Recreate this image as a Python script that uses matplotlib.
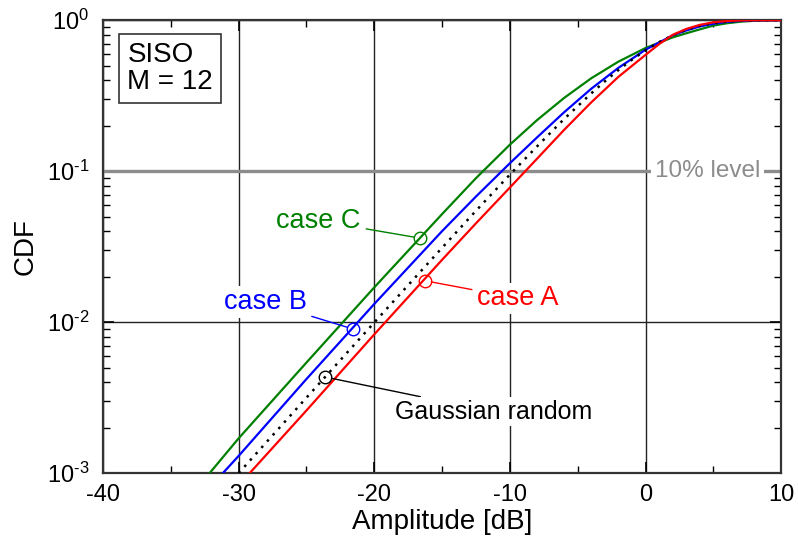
import numpy as np
import matplotlib
matplotlib.use('Agg')
from matplotlib import pyplot as plt
from matplotlib.ticker import FixedLocator, LogLocator, NullFormatter

plt.rcParams['font.family'] = ['Liberation Sans', 'DejaVu Sans']
plt.rcParams['mathtext.fontset'] = 'custom'
plt.rcParams['mathtext.rm'] = 'Liberation Sans'
plt.rcParams['mathtext.it'] = 'Liberation Sans'
plt.rcParams['axes.unicode_minus'] = False

# --data-------------------------------------------------------------------
gauss_x = [-32.5, -30, -25, -20, -15, -12.5, -10, -8, -6, -4, -3, -2, -1, 0, 1, 2, 3, 4, 5, 6, 7, 8, 9, 10]
gauss_y = [5.6e-4, 1.0e-3, 3.16e-3, 9.95e-3, 3.11e-2, 5.47e-2, 9.5e-2, 0.146, 0.222, 0.328, 0.394, 0.468, 0.548,
           0.632, 0.716, 0.795, 0.864, 0.919, 0.958, 0.981, 0.9933, 0.9982, 0.9996, 1.0]

caseA_x = [-32, -30, -25, -20, -15, -12.5, -10, -8, -6, -4, -2, 0, 1, 2, 3, 4, 5, 6, 7, 8, 10]
caseA_y = [4.4e-4, 8.3e-4, 2.6e-3, 8.3e-3, 2.59e-2, 4.52e-2, 7.8e-2, 0.121, 0.188, 0.286, 0.422,
           0.590, 0.695, 0.80, 0.876, 0.932, 0.969, 0.988, 0.997, 0.9995, 1.0]

caseB_x = [-33, -30, -25, -20, -15, -12.5, -10, -8, -6, -4, -2, 0, 2, 3, 4, 5, 6, 7, 8, 10]
caseB_y = [6.6e-4, 1.3e-3, 4.2e-3, 1.32e-2, 4.01e-2, 6.8e-2, 0.113, 0.1675, 0.246, 0.352, 0.484,
           0.638, 0.795, 0.856, 0.91, 0.948, 0.975, 0.99, 0.997, 1.0]

caseC_x = [-34, -30, -25, -20, -15, -12.5, -10, -8, -6, -4, -2, 0, 2, 3, 4, 5, 6, 7, 8, 9, 10]
caseC_y = [6.3e-4, 1.7e-3, 5.4e-3, 1.7e-2, 5.2e-2, 9.0e-2, 0.150, 0.218, 0.306, 0.413, 0.532,
           0.655, 0.77, 0.82, 0.87, 0.922, 0.955, 0.978, 0.991, 0.997, 1.0]

# marker positions on the curves used for the labels
mark_x = {'A': -16.25, 'B': -21.55, 'C': -16.6, 'G': -23.6}
mark_y = {'A': 0.0188, 'B': 0.0090, 'C': 0.036, 'G': 0.00433}

level_10 = 0.1

#--plot---------------------------------------------------------------------
fig = plt.figure(figsize=(7.98, 5.47), dpi=100)
ax = fig.add_axes([0.129, 0.135, 0.850, 0.828])

ax.axhline(level_10, color='#8c8c8c', lw=2.4, zorder=2)

ax.plot(caseC_x, caseC_y, color='#008000', lw=1.6, zorder=3)
ax.plot(caseB_x, caseB_y, color='#0000ff', lw=1.6, zorder=3)
ax.plot(gauss_x, gauss_y, color='black', lw=1.8, ls=(0, (1, 2.4)), zorder=3)
ax.plot(caseA_x, caseA_y, color='#ff0000', lw=1.6, zorder=3)

ax.set_yscale('log')
ax.set_xlim(-40, 10)
ax.set_ylim(1e-3, 1)

ax.xaxis.set_major_locator(FixedLocator([-40, -30, -20, -10, 0, 10]))
ax.xaxis.set_minor_locator(FixedLocator([-35, -25, -15, -5, 5]))
ax.yaxis.set_major_locator(FixedLocator([1e-3, 1e-2, 1e-1, 1]))
ax.yaxis.set_minor_locator(LogLocator(base=10, subs=np.arange(2, 10)))
ax.yaxis.set_minor_formatter(NullFormatter())
ax.set_yticklabels(['$10^{\\text{-}3}$', '$10^{\\text{-}2}$', '$10^{\\text{-}1}$', '$10^{0}$'])

ax.tick_params(which='both', direction='in', top=True, right=True, labelsize=17, colors='black')
ax.tick_params(which='major', length=8, width=1.2, pad=8)
ax.tick_params(which='minor', length=5, width=1.0)
ax.tick_params(axis='y', which='major', pad=10)
ax.grid(True, which='major', color='#222222', lw=1.0, zorder=1)
ax.set_axisbelow(True)
for sp in ax.spines.values():
    sp.set_linewidth(1.6)
    sp.set_color('#333333')

ax.set_xlabel('Amplitude [dB]', fontsize=20, labelpad=2)
ax.set_ylabel('CDF', fontsize=20, labelpad=6)

# label box
ax.text(-38.2, 0.48, 'SISO\nM = 12', fontsize=20, linespacing=1.05, va='center', ha='left',
        bbox=dict(boxstyle='square,pad=0.3', fc='white', ec='#333333', lw=1.2), zorder=5)

# 10% level text
ax.text(0.7, level_10, '10% level', color='#8c8c8c', fontsize=17.5, va='center', ha='left',
        bbox=dict(boxstyle='square,pad=0.15', fc='white', ec='none'), zorder=2.5)

labels = [
    ('C', 'case C', '#008000', -21.0, 0.047, 'right', 19.5),
    ('B', 'case B', '#0000ff', -25.0, 0.0136, 'right', 19.5),
    ('A', 'case A', '#ff0000', -12.4, 0.0144, 'left', 19.5),
    ('G', 'Gaussian random', 'black', -18.5, 0.00255, 'left', 18),
]
for key, txt, col, tx, ty, ha, fs in labels:
    ax.plot(mark_x[key], mark_y[key], 'o', ms=9, mfc='none', mec=col, mew=1.0, zorder=4)
    ax.annotate(txt, xy=(mark_x[key], mark_y[key]), xytext=(tx, ty), color=col, fontsize=fs,
                ha=ha, va='center',
                bbox=dict(boxstyle='square,pad=0.1', fc='white', ec='none'),
                arrowprops=dict(arrowstyle='-', color=col, lw=1.0, shrinkA=2, shrinkB=4.5),
                zorder=5)

fig.savefig('out.png', dpi=100)
